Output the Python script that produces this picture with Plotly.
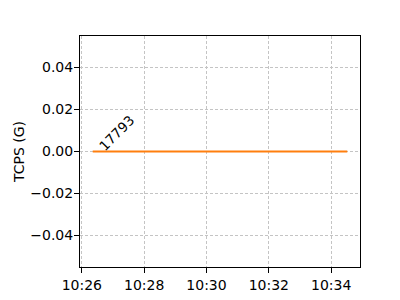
import plotly.graph_objects as go

times = ["2024-01-01 10:26:21", "2024-01-01 10:34:31"]
values = [0.0, 0.0]
label_text = "17793"
x_range = ["2024-01-01 10:25:56.5", "2024-01-01 10:34:55.5"]
y_range = [-0.055, 0.055]
y_ticks = [-0.04, -0.02, 0.0, 0.02, 0.04]

font = "DejaVu Sans"

fig = go.Figure()
fig.add_trace(go.Scatter(x=times, y=values, mode="lines",
                         line=dict(color="#ff7f0e", width=2), showlegend=False))
fig.add_annotation(x=times[0], y=values[0], text=label_text, textangle=-45,
                   showarrow=False, xanchor="left", yanchor="bottom",
                   font=dict(family=font, size=13.5, color="black"), xshift=0, yshift=-5)

axis_common = dict(showline=True, linecolor="black", linewidth=1, mirror=True,
                   ticks="outside", ticklen=5, tickcolor="black", tickwidth=1,
                   showgrid=True, gridcolor="#c4c4c4", griddash="3px,2px", gridwidth=0.7,
                   zeroline=False, automargin=False,
                   tickfont=dict(family=font, size=14, color="black"))

fig.update_xaxes(range=x_range, type="date", tickformat="%H:%M",
                 tick0="2024-01-01 10:26:00", dtick=120000, **axis_common)
fig.update_yaxes(range=y_range, tickvals=y_ticks, tickformat=".2f", ticklabelstandoff=-2,
                 title=dict(text="TCPS (G)", font=dict(family=font, size=14, color="black"), standoff=2),
                 **axis_common)

fig.update_layout(width=400, height=300, margin=dict(l=80, r=40, t=36, b=33),
                  paper_bgcolor="white", plot_bgcolor="white",
                  font=dict(family=font, size=14, color="black"))

fig.write_html("out.html")
